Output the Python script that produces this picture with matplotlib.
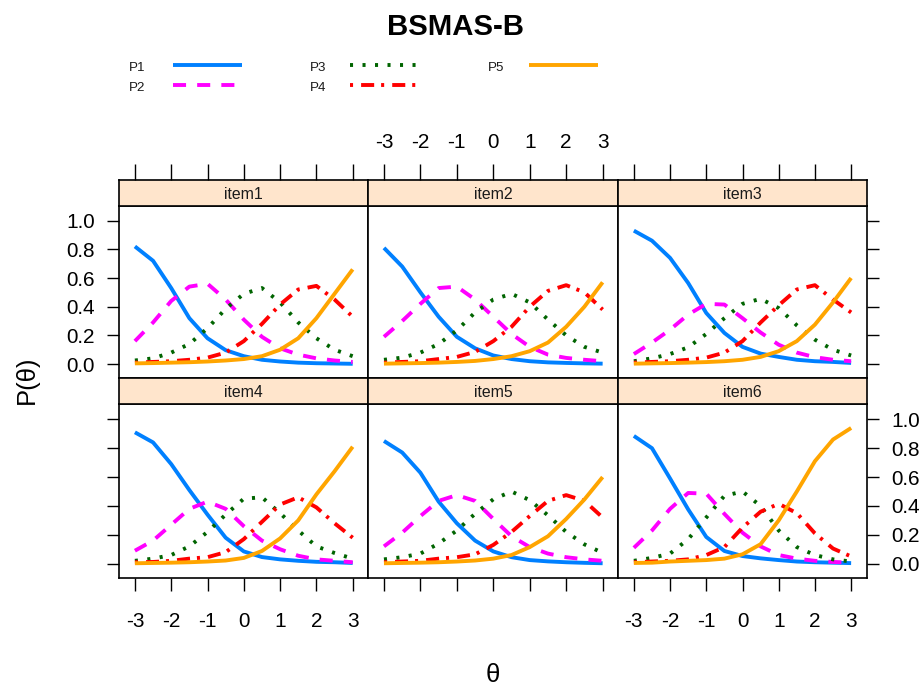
import matplotlib
matplotlib.use("Agg")
import matplotlib.pyplot as plt
from matplotlib import font_manager
from matplotlib.lines import Line2D

# ---------------- data ----------------
theta = [-3, -2.5, -2, -1.5, -1, -0.5, 0, 0.5, 1, 1.5, 2, 2.5, 3]
x_ticks = [-3, -2, -1, 0, 1, 2, 3]
x_tick_labels = ["-3", "-2", "-1", "0", "1", "2", "3"]
y_ticks = [0.0, 0.2, 0.4, 0.6, 0.8, 1.0]
y_tick_labels = ["0.0", "0.2", "0.4", "0.6", "0.8", "1.0"]
categories = ["P1", "P2", "P3", "P4", "P5"]
panel_names = ["item1", "item2", "item3", "item4", "item5", "item6"]

item1 = [
    [0.82, 0.72, 0.53, 0.32, 0.18, 0.097, 0.055, 0.03, 0.018, 0.01, 0.006, 0.004, 0.002],
    [0.16, 0.29, 0.44, 0.54, 0.56, 0.45, 0.31, 0.19, 0.11, 0.066, 0.04, 0.025, 0.015],
    [0.025, 0.04, 0.08, 0.14, 0.25, 0.385, 0.49, 0.53, 0.43, 0.29, 0.18, 0.10, 0.055],
    [0.01, 0.015, 0.02, 0.03, 0.045, 0.08, 0.16, 0.28, 0.415, 0.52, 0.545, 0.45, 0.33],
    [0.005, 0.007, 0.01, 0.013, 0.018, 0.025, 0.035, 0.055, 0.10, 0.18, 0.32, 0.49, 0.66],
]
item2 = [
    [0.81, 0.68, 0.50, 0.33, 0.19, 0.11, 0.06, 0.035, 0.02, 0.012, 0.008, 0.005, 0.003],
    [0.19, 0.30, 0.42, 0.53, 0.54, 0.45, 0.33, 0.21, 0.12, 0.066, 0.043, 0.03, 0.02],
    [0.03, 0.045, 0.08, 0.14, 0.235, 0.36, 0.45, 0.49, 0.43, 0.31, 0.20, 0.12, 0.08],
    [0.01, 0.015, 0.02, 0.035, 0.05, 0.085, 0.16, 0.26, 0.40, 0.51, 0.55, 0.50, 0.38],
    [0.003, 0.005, 0.007, 0.01, 0.015, 0.022, 0.035, 0.055, 0.09, 0.15, 0.26, 0.40, 0.57],
]
item3 = [
    [0.93, 0.86, 0.74, 0.565, 0.356, 0.217, 0.12, 0.073, 0.05, 0.03, 0.02, 0.015, 0.008],
    [0.07, 0.15, 0.24, 0.345, 0.42, 0.415, 0.32, 0.22, 0.135, 0.08, 0.048, 0.03, 0.02],
    [0.02, 0.04, 0.07, 0.117, 0.21, 0.32, 0.42, 0.455, 0.39, 0.27, 0.17, 0.10, 0.06],
    [0.01, 0.015, 0.02, 0.03, 0.045, 0.08, 0.16, 0.29, 0.41, 0.52, 0.55, 0.45, 0.36],
    [0.003, 0.005, 0.007, 0.01, 0.014, 0.02, 0.03, 0.05, 0.09, 0.16, 0.275, 0.43, 0.60],
]
item4 = [
    [0.91, 0.84, 0.69, 0.51, 0.34, 0.18, 0.085, 0.046, 0.03, 0.02, 0.013, 0.01, 0.005],
    [0.09, 0.16, 0.27, 0.38, 0.43, 0.38, 0.26, 0.16, 0.10, 0.055, 0.03, 0.02, 0.01],
    [0.02, 0.035, 0.06, 0.12, 0.22, 0.34, 0.45, 0.46, 0.35, 0.23, 0.12, 0.074, 0.035],
    [0.01, 0.012, 0.02, 0.035, 0.045, 0.08, 0.17, 0.29, 0.41, 0.46, 0.39, 0.28, 0.18],
    [0.003, 0.005, 0.007, 0.01, 0.015, 0.022, 0.04, 0.088, 0.175, 0.30, 0.48, 0.64, 0.81],
]
item5 = [
    [0.85, 0.77, 0.63, 0.43, 0.28, 0.16, 0.085, 0.045, 0.025, 0.016, 0.01, 0.006, 0.003],
    [0.12, 0.215, 0.33, 0.435, 0.475, 0.435, 0.31, 0.19, 0.115, 0.07, 0.045, 0.03, 0.02],
    [0.03, 0.045, 0.07, 0.14, 0.23, 0.346, 0.446, 0.50, 0.44, 0.335, 0.22, 0.134, 0.075],
    [0.01, 0.015, 0.02, 0.035, 0.045, 0.065, 0.13, 0.22, 0.33, 0.435, 0.475, 0.435, 0.32],
    [0.003, 0.005, 0.007, 0.01, 0.015, 0.022, 0.035, 0.06, 0.115, 0.19, 0.31, 0.445, 0.60],
]
item6 = [
    [0.885, 0.80, 0.59, 0.376, 0.185, 0.088, 0.053, 0.037, 0.025, 0.015, 0.01, 0.007, 0.004],
    [0.11, 0.23, 0.38, 0.49, 0.485, 0.345, 0.215, 0.12, 0.06, 0.035, 0.02, 0.012, 0.007],
    [0.02, 0.04, 0.07, 0.17, 0.32, 0.47, 0.50, 0.40, 0.23, 0.115, 0.06, 0.03, 0.015],
    [0.01, 0.015, 0.02, 0.03, 0.06, 0.115, 0.25, 0.36, 0.415, 0.35, 0.21, 0.105, 0.05],
    [0.005, 0.007, 0.015, 0.02, 0.025, 0.035, 0.065, 0.135, 0.30, 0.50, 0.71, 0.86, 0.94],
]
items = [item1, item2, item3, item4, item5, item6]

# ---------------- styles ----------------
colors = ["#0080ff", "#ff00ff", "#006400", "#ff0000", "#ffa500"]
dashes = [(0, ()), (0, (9.4, 8.0)), (0, (2.2, 6.8)), (0, (2.2, 5.8, 9.4, 5.0)), (0, ())]
LW = 2.8
STRIP_BG = "#ffe5cc"

names = {f.name for f in font_manager.fontManager.ttflist}
narrow = "Liberation Sans Narrow" in names
if narrow:
    FAM = ["Liberation Sans Narrow", "Liberation Sans", "DejaVu Sans"]
    k = 1.0
else:
    FAM = ["Liberation Sans", "DejaVu Sans"]
    k = 0.88
plt.rcParams["font.family"] = FAM
plt.rcParams["lines.scale_dashes"] = False

W, H = 921, 688
fig = plt.figure(figsize=(W / 100, H / 100), dpi=100)


def fx(px):
    return px / W


def fy(py):
    return 1 - py / H


col_edges = [119.3, 368.3, 618.3, 866.7]
rows = [(180.0, 205.7, 378.0), (378.0, 404.3, 577.7)]
XL = (-3.43, 3.43)
YL = (-0.097, 1.104)
TICK_FS = 17 * k
SPINE_LW = 1.2

for idx in range(6):
    r, c = divmod(idx, 3)
    st, pt, pb = rows[r]
    x0, x1 = col_edges[c], col_edges[c + 1]
    ax = fig.add_axes([fx(x0), fy(pb), fx(x1) - fx(x0), fy(pt) - fy(pb)])
    sax = fig.add_axes([fx(x0), fy(pt), fx(x1) - fx(x0), fy(st) - fy(pt)])

    for j, ys in enumerate(items[idx]):
        ax.plot(theta, ys, color=colors[j], linestyle=dashes[j], lw=LW,
                solid_capstyle="butt", dash_capstyle="butt", solid_joinstyle="round")

    ax.set_xlim(*XL)
    ax.set_ylim(*YL)
    ax.set_xticks(x_ticks)
    ax.set_xticklabels(x_tick_labels)
    ax.set_yticks(y_ticks)
    ax.set_yticklabels(y_tick_labels)
    ax.tick_params(axis="x", direction="out", length=9.4, width=1.0, pad=15,
                   labelsize=TICK_FS, bottom=(r == 1), labelbottom=(r == 1 and c != 1),
                   top=False, labeltop=False)
    ax.tick_params(axis="y", direction="out", width=1.0, labelsize=TICK_FS,
                   left=(c == 0), labelleft=(c == 0 and r == 0),
                   right=(c == 2), labelright=(c == 2 and r == 1))
    ax.yaxis.set_tick_params(which="major", length=8.6, pad=9)
    for s in ax.spines.values():
        s.set_linewidth(SPINE_LW)

    sax.set_facecolor(STRIP_BG)
    sax.set_xlim(*XL)
    sax.set_ylim(0, 1)
    sax.set_yticks([])
    sax.set_xticks(x_ticks)
    sax.set_xticklabels(x_tick_labels)
    sax.tick_params(axis="x", direction="out", length=11.5, width=1.0, pad=8.6,
                    labelsize=TICK_FS, top=(r == 0), labeltop=(r == 0 and c == 1),
                    bottom=False, labelbottom=False)
    for s in sax.spines.values():
        s.set_linewidth(SPINE_LW)
    sax.text(0.5, 0.45, panel_names[idx], transform=sax.transAxes,
             ha="center", va="center", fontsize=13 * k, color="#1a1a1a")

# ---------------- title, axis labels ----------------
fig.text(fx(455), fy(27), "BSMAS-B", ha="center", va="center",
         fontsize=24 * k, fontweight="bold")
fig.text(fx(27), fy(380), "P(θ)", rotation=90, ha="center", va="center",
         fontsize=21 * k)
fig.text(fx(493), fy(675), "θ", ha="center", va="center", fontsize=21 * k)

# ---------------- legend ----------------
leg_text = [(129, 68), (129, 88), (310, 68), (310, 88), (488, 68)]
leg_line = [(173, 242, 65), (173, 238, 85), (350, 418, 65), (350, 422, 85), (529, 598, 65)]
for j, name in enumerate(categories):
    tx, ty = leg_text[j]
    fig.text(fx(tx), fy(ty), name, ha="left", va="center", fontsize=11 * k,
             color="#1a1a1a")
    a, b, yy = leg_line[j]
    fig.add_artist(Line2D([fx(a), fx(b)], [fy(yy), fy(yy)], color=colors[j],
                          linestyle=dashes[j], lw=LW, transform=fig.transFigure,
                          solid_capstyle="butt", dash_capstyle="butt"))

fig.savefig("out.png", dpi=100)
